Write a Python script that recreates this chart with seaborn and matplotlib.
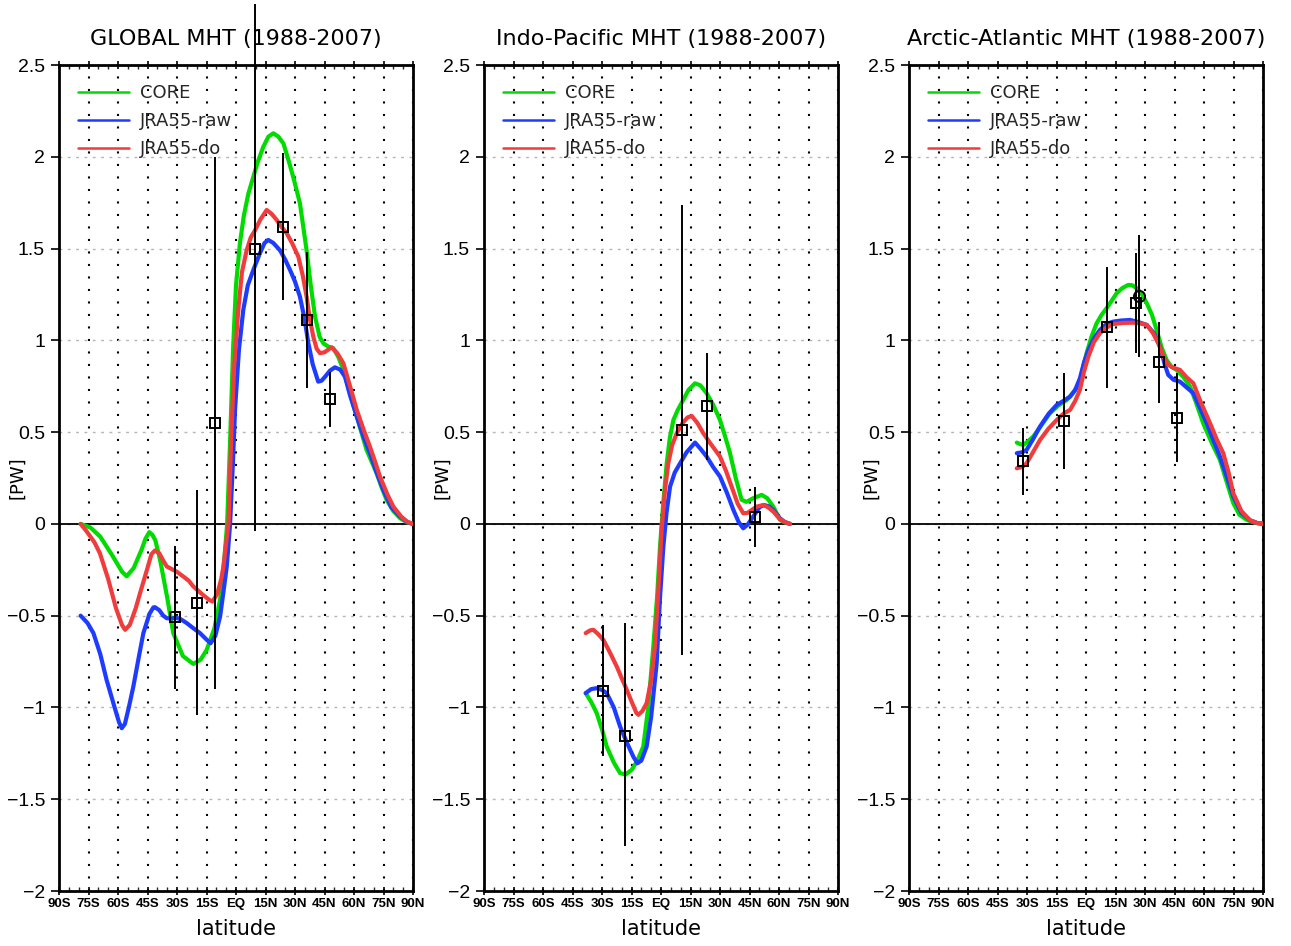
import numpy as np
import pandas as pd
import matplotlib
matplotlib.use("Agg")
import matplotlib.pyplot as plt
import seaborn as sns
from matplotlib.lines import Line2D
from matplotlib.ticker import MultipleLocator

# ---------------- data ----------------
RUNS = ["CORE", "JRA55-raw", "JRA55-do"]
COLORS = {"CORE": "#00dc00", "JRA55-raw": "#1e3cff", "JRA55-do": "#f03c3c"}
TITLES = ["GLOBAL MHT (1988-2007)", "Indo-Pacific MHT (1988-2007)",
          "Arctic-Atlantic MHT (1988-2007)"]
XTICKS = [-90, -75, -60, -45, -30, -15, 0, 15, 30, 45, 60, 75, 90]
XTICKLABELS = ["90S", "75S", "60S", "45S", "30S", "15S", "EQ",
               "15N", "30N", "45N", "60N", "75N", "90N"]
YTICKS = [-2, -1.5, -1, -0.5, 0, 0.5, 1, 1.5, 2, 2.5]
YTICKLABELS = ["\u22122", "\u22121.5", "\u22121", "\u22120.5", "0",
               "0.5", "1", "1.5", "2", "2.5"]

# Global
GLB_CORE_LAT = [-79, -74, -69, -63, -58, -55.6, -52, -48, -46, -44.1, -42.5, -41, -38.6, -35,
                -31.9, -27, -21.7, -18, -14.9, -11, -8.1, -6, -4.5, -3, -1.5, 0, 2, 4, 6.3,
                8.8, 11, 13.9, 16.5, 19, 21.5, 24.1, 27, 29.1, 32.5, 35.9, 38, 40.2, 42.5,
                44.4, 47, 49.5, 52, 54.6, 58, 61.4, 66.4, 71.5, 74, 76.6, 80, 83.4, 87, 90]
GLB_CORE_VAL = [0, -0.02, -0.07, -0.17, -0.26, -0.285, -0.24, -0.14, -0.08, -0.045, -0.06,
                -0.09, -0.196, -0.4, -0.595, -0.72, -0.763, -0.74, -0.686, -0.57, -0.414,
                -0.2, 0, 0.45, 0.95, 1.3, 1.53, 1.68, 1.80, 1.89, 1.97, 2.055, 2.11, 2.128,
                2.11, 2.073, 1.97, 1.89, 1.747, 1.49, 1.30, 1.129, 1.02, 0.984, 0.965, 0.957,
                0.91, 0.839, 0.71, 0.585, 0.403, 0.276, 0.2, 0.13, 0.07, 0.031, 0.008, 0]
GLB_RAW_LAT = [-79, -75.5, -72.5, -69, -65.8, -62, -59.5, -58.1, -56.5, -54.5, -52.2, -49.5,
               -47.1, -44, -42, -41.2, -39, -37, -35.2, -32.5, -30.9, -28, -25.1, -21.5, -18.3,
               -15, -12.9, -10.5, -8.1, -6.5, -4.7, -3.0, -1.5, -0.5, 1.5, 3.7, 6, 8.8, 12,
               14.5, 16.4, 19, 22.4, 25, 27.5, 30, 32.5, 34.8, 36.8, 39, 41.8, 43.5, 45.3,
               47.8, 50.3, 53, 55.4, 58, 61.4, 65, 68.1, 71.5, 74.9, 79, 83.4, 87, 90]
GLB_RAW_VAL = [-0.5, -0.54, -0.595, -0.71, -0.85, -0.99, -1.08, -1.113, -1.09, -1.0, -0.886,
               -0.73, -0.595, -0.49, -0.455, -0.454, -0.47, -0.5, -0.514, -0.515, -0.51,
               -0.52, -0.54, -0.57, -0.595, -0.63, -0.65, -0.61, -0.505, -0.38, -0.232, 0,
               0.35, 0.62, 0.95, 1.166, 1.3, 1.383, 1.47, 1.53, 1.547, 1.53, 1.49, 1.44,
               1.383, 1.32, 1.238, 1.12, 0.984, 0.87, 0.775, 0.78, 0.802, 0.835, 0.853, 0.84,
               0.802, 0.7, 0.585, 0.47, 0.385, 0.28, 0.185, 0.09, 0.04, 0.01, 0]
GLB_DO_LAT = [-79, -76, -72, -69.2, -65, -61, -58, -56.4, -54, -51, -48.8, -45, -43, -41.2,
              -39, -37, -35.2, -32, -30.2, -27, -24, -21.7, -17, -13.5, -11.9, -9.5, -7.5,
              -6.4, -5.2, -3.8, -2.5, -1, 1.2, 3, 5.4, 7.5, 9.7, 12.5, 15.6, 18, 20.7, 23,
              25.8, 28.5, 31.7, 34, 35.9, 37.5, 39.3, 41, 42.7, 45, 48.6, 51.5, 54.6, 58,
              61.4, 65, 68.1, 71, 73.2, 77, 80, 84, 87, 90]
GLB_DO_VAL = [0, -0.04, -0.1, -0.16, -0.3, -0.46, -0.55, -0.577, -0.55, -0.46, -0.378, -0.24,
              -0.165, -0.145, -0.16, -0.2, -0.232, -0.25, -0.26, -0.285, -0.31, -0.341, -0.385,
              -0.415, -0.423, -0.38, -0.3, -0.232, -0.12, 0, 0.45, 0.85, 1.17, 1.37, 1.49,
              1.56, 1.60, 1.66, 1.71, 1.69, 1.656, 1.62, 1.583, 1.53, 1.456, 1.35, 1.238,
              1.12, 1.02, 0.955, 0.93, 0.935, 0.962, 0.93, 0.875, 0.75, 0.621, 0.51, 0.421,
              0.33, 0.258, 0.16, 0.094, 0.04, 0.012, 0]

# Indo-Pacific
IP_CORE_LAT = [-38.3, -35.5, -32.7, -30, -27.6, -24, -20.8, -18, -14.9, -12, -9.0, -6.5, -3.9,
               -2, -0.5, 1.2, 2.9, 4.5, 6.3, 8.5, 11.3, 14, 17.3, 20, 23.2, 26.5, 30, 32.5,
               35.1, 38, 41, 43.5, 46.9, 51.2, 54, 57.1, 60.5, 63, 65.6]
IP_CORE_VAL = [-0.922, -0.97, -1.031, -1.12, -1.213, -1.3, -1.358, -1.365, -1.34, -1.29,
               -1.213, -1.0, -0.668, -0.4, -0.124, 0.12, 0.33, 0.47, 0.566, 0.62, 0.675,
               0.73, 0.766, 0.755, 0.712, 0.65, 0.566, 0.48, 0.385, 0.25, 0.131, 0.12, 0.14,
               0.158, 0.14, 0.094, 0.022, 0.008, 0]
IP_RAW_LAT = [-38.3, -35.5, -32.7, -30, -27.6, -24, -20.8, -17, -14, -12.0, -10, -7.3, -5,
              -2.2, -0.5, 1.2, 2.8, 4.6, 7, 9.7, 13, 17.3, 20, 23.2, 26.5, 30, 33.5, 36.8,
              39.5, 41.8, 44, 46.9, 50, 52.4, 55, 57.1, 60.5, 63, 65.6]
IP_RAW_VAL = [-0.922, -0.9, -0.895, -0.905, -0.922, -1.0, -1.104, -1.2, -1.27, -1.304, -1.29,
              -1.213, -1.05, -0.759, -0.4, -0.124, 0.06, 0.203, 0.28, 0.33, 0.39, 0.443,
              0.41, 0.367, 0.31, 0.258, 0.17, 0.076, 0.01, -0.024, -0.005, 0.04, 0.09, 0.103,
              0.095, 0.076, 0.03, 0.01, 0]
IP_DO_LAT = [-38.3, -36, -34.4, -32, -29.3, -26, -22.5, -20, -17.4, -14.5, -12.5, -11.5, -9.5,
             -7.3, -5, -3.1, -1.3, 0.3, 2, 3.7, 5.7, 8.0, 11, 13.5, 15.6, 18.5, 21.5, 25, 30,
             33, 35.9, 39, 41.8, 44, 48.6, 52, 54.5, 57.1, 60.5, 63, 65.6]
IP_DO_VAL = [-0.595, -0.58, -0.577, -0.6, -0.632, -0.7, -0.777, -0.84, -0.904, -0.98, -1.03,
             -1.04, -1.02, -0.977, -0.85, -0.668, -0.35, -0.033, 0.18, 0.33, 0.43, 0.494,
             0.55, 0.58, 0.588, 0.55, 0.494, 0.44, 0.367, 0.29, 0.203, 0.11, 0.058, 0.06,
             0.094, 0.103, 0.09, 0.067, 0.025, 0.01, 0]

# Arctic-Atlantic
AA_CORE_LAT = [-35.2, -33.5, -31.9, -29.5, -26.8, -22.5, -18.3, -14, -9.8, -6.5, -3.1, -1.5,
               0.3, 2.8, 5.4, 8, 10.5, 13, 15.6, 18.5, 21.5, 23.5, 25.8, 28.5, 30.9, 33.5,
               35.9, 38.5, 41.0, 43.5, 46.1, 49.5, 52.9, 56, 59.6, 64, 68.1, 71.5, 74.9, 78,
               81.7, 86, 90]
AA_CORE_VAL = [0.443, 0.435, 0.43, 0.45, 0.476, 0.54, 0.603, 0.645, 0.675, 0.715, 0.766, 0.85,
               0.93, 1.02, 1.093, 1.14, 1.175, 1.215, 1.257, 1.285, 1.302, 1.3, 1.284, 1.25,
               1.202, 1.14, 1.057, 0.96, 0.893, 0.855, 0.839, 0.8, 0.748, 0.66, 0.548, 0.44,
               0.349, 0.23, 0.113, 0.05, 0.022, 0.006, 0]
AA_RAW_LAT = [-35.2, -32.5, -30.2, -27, -23.4, -19, -14.9, -11.5, -8.1, -5.5, -3.1, -1, 1.2,
              4, 7.1, 10.5, 13.9, 18, 22.4, 26.5, 30.9, 34.5, 37.6, 40, 41.8, 44.5, 47.8, 51,
              54.6, 58, 61.4, 65, 68.1, 71.5, 74.9, 79, 83.4, 87, 90]
AA_RAW_VAL = [0.385, 0.39, 0.403, 0.46, 0.53, 0.6, 0.648, 0.67, 0.693, 0.73, 0.793, 0.88,
              0.948, 1.01, 1.057, 1.09, 1.102, 1.108, 1.111, 1.1, 1.084, 1.04, 0.966, 0.87,
              0.812, 0.785, 0.775, 0.745, 0.712, 0.63, 0.548, 0.45, 0.367, 0.26, 0.149, 0.06,
              0.02, 0.005, 0]
AA_DO_LAT = [-35.2, -32.5, -30.2, -27, -23.4, -19, -14.9, -11.5, -8.1, -5.5, -3.1, -1, 1.2, 4,
             7.1, 10.5, 13.9, 19, 24.1, 27.5, 30.9, 34, 36.8, 39.5, 41.8, 44.5, 47.8, 51,
             54.6, 58.5, 63.1, 66.5, 69.8, 72.5, 74.9, 79, 83.4, 87, 90]
AA_DO_VAL = [0.303, 0.31, 0.33, 0.39, 0.457, 0.52, 0.566, 0.6, 0.621, 0.67, 0.73, 0.83, 0.911,
             0.99, 1.039, 1.07, 1.089, 1.095, 1.096, 1.092, 1.084, 1.04, 0.984, 0.91, 0.866,
             0.85, 0.839, 0.8, 0.766, 0.66, 0.548, 0.46, 0.385, 0.28, 0.167, 0.07, 0.02,
             0.005, 0]

# Observational estimates (square markers with ranges)
GLB_OBS_LAT = [-31.0, -19.7, -10.7, 9.7, 24.1, 35.9, 47.8]
GLB_OBS_VAL = [-0.508, -0.429, 0.552, 1.50, 1.62, 1.111, 0.679]
GLB_OBS_LO = [-0.90, -1.04, -0.90, -0.04, 1.22, 0.74, 0.53]
GLB_OBS_HI = [-0.12, 0.185, 2.0, 2.83, 2.02, 1.48, 0.83]

IP_OBS_LAT = [-29.7, -18.1, 10.5, 23.2, 47.8]
IP_OBS_VAL = [-0.913, -1.155, 0.512, 0.643, 0.04]
IP_OBS_LO = [-1.267, -1.757, -0.714, 0.349, -0.124]
IP_OBS_HI = [-0.552, -0.541, 1.735, 0.933, 0.203]

AA_OBS_LAT = [-31.9, -11.2, 10.8, 25.4, 37.3, 46.3]
AA_OBS_VAL = [0.343, 0.561, 1.071, 1.202, 0.88, 0.579]
AA_OBS_LO = [0.158, 0.298, 0.739, 0.93, 0.657, 0.339]
AA_OBS_HI = [0.521, 0.821, 1.40, 1.474, 1.102, 0.821]
# extra estimate drawn with a circle
AA_CIRC_LAT = [27.1]
AA_CIRC_VAL = [1.242]
AA_CIRC_LO = [0.911]
AA_CIRC_HI = [1.574]

PANELS = [
    dict(title=TITLES[0],
         curves={"CORE": (GLB_CORE_LAT, GLB_CORE_VAL), "JRA55-raw": (GLB_RAW_LAT, GLB_RAW_VAL),
                 "JRA55-do": (GLB_DO_LAT, GLB_DO_VAL)},
         obs=(GLB_OBS_LAT, GLB_OBS_VAL, GLB_OBS_LO, GLB_OBS_HI), circ=None),
    dict(title=TITLES[1],
         curves={"CORE": (IP_CORE_LAT, IP_CORE_VAL), "JRA55-raw": (IP_RAW_LAT, IP_RAW_VAL),
                 "JRA55-do": (IP_DO_LAT, IP_DO_VAL)},
         obs=(IP_OBS_LAT, IP_OBS_VAL, IP_OBS_LO, IP_OBS_HI), circ=None),
    dict(title=TITLES[2],
         curves={"CORE": (AA_CORE_LAT, AA_CORE_VAL), "JRA55-raw": (AA_RAW_LAT, AA_RAW_VAL),
                 "JRA55-do": (AA_DO_LAT, AA_DO_VAL)},
         obs=(AA_OBS_LAT, AA_OBS_VAL, AA_OBS_LO, AA_OBS_HI),
         circ=(AA_CIRC_LAT, AA_CIRC_VAL, AA_CIRC_LO, AA_CIRC_HI)),
]

# ---------------- style ----------------
sns.set_style("white")
plt.rcParams["font.family"] = ["DejaVu Sans"]
plt.rcParams["axes.unicode_minus"] = True

W, H = 1291, 946
fig = plt.figure(figsize=(W / 100, H / 100), dpi=100)
fig.patch.set_facecolor("white")

LEFTS = [59, 484, 909]
YLAB_X = [-0.092, -0.092, -0.080]
AX_W, AX_H, AX_B = 354, 826, 55

for i, p in enumerate(PANELS):
    ax = fig.add_axes([LEFTS[i] / W, AX_B / H, AX_W / W, AX_H / H])
    ax.set_facecolor("white")

    frames = []
    for run in RUNS:
        lat, val = p["curves"][run]
        frames.append(pd.DataFrame({"lat": lat, "mht": val, "run": run}))
    df = pd.concat(frames, ignore_index=True)

    ax.axhline(0, color="black", lw=1.3, zorder=1.5)
    sns.lineplot(data=df, x="lat", y="mht", hue="run", hue_order=RUNS, palette=COLORS,
                 sort=False, estimator=None, linewidth=3.0, legend=False, ax=ax,
                 solid_joinstyle="round", solid_capstyle="round", zorder=3)

    olat, oval, olo, ohi = p["obs"]
    ax.vlines(olat, olo, ohi, colors="black", lw=1.4, clip_on=False, zorder=4)
    ax.plot(olat, oval, linestyle="none", marker="s", ms=7.5, mfc="none", mec="black",
            mew=1.4, zorder=5)
    if p["circ"] is not None:
        clat, cval, clo, chi = p["circ"]
        ax.vlines(clat, clo, chi, colors="black", lw=1.4, zorder=4)
        ax.plot(clat, cval, linestyle="none", marker="o", ms=8, mfc="none", mec="black",
                mew=1.4, zorder=5)

    ax.set_xlim(-90, 90)
    ax.set_ylim(-2, 2.5)
    ax.set_xticks(XTICKS)
    ax.set_xticklabels(XTICKLABELS, fontsize=9.5, fontweight="bold",
                       family="Liberation Sans")
    ax.set_yticks(YTICKS)
    ax.set_yticklabels(YTICKLABELS, fontsize=14, family="Liberation Sans")
    ax.xaxis.set_minor_locator(MultipleLocator(5))

    ax.grid(axis="x", which="major", color="black", linestyle=(0, (1, 5)), linewidth=1.5)
    ax.grid(axis="y", which="major", color="#b4b4b4", linestyle=(0, (2, 4)), linewidth=1.0)
    ax.set_axisbelow(True)

    ax.tick_params(axis="x", which="major", direction="inout", length=6, width=1.2,
                   bottom=True, top=True, pad=2, colors="black")
    ax.tick_params(axis="x", which="minor", direction="in", length=3, width=1.0,
                   bottom=True, top=True)
    ax.tick_params(axis="y", which="major", direction="out", length=6, width=1.2,
                   left=True, right=False, pad=4, colors="black")

    for s in ax.spines.values():
        s.set_linewidth(2.0)
        s.set_color("black")
        s.set_visible(True)

    ax.set_title(p["title"], fontsize=16, pad=14.5, color="black")
    ax.set_xlabel("latitude", fontsize=15, labelpad=6.5, color="black")
    ax.set_ylabel("[PW]", fontsize=13, color="black")
    ax.yaxis.set_label_coords(YLAB_X[i], 0.5)

    handles = [Line2D([], [], color=COLORS[r], lw=1.8) for r in RUNS]
    ax.legend(handles, RUNS, loc="upper left", bbox_to_anchor=(0.054, 0.977),
              frameon=False, fontsize=13, handlelength=2.8, handletextpad=0.6,
              labelspacing=0.55, borderaxespad=0, borderpad=0)

fig.savefig("out.png", dpi=100, facecolor="white")
